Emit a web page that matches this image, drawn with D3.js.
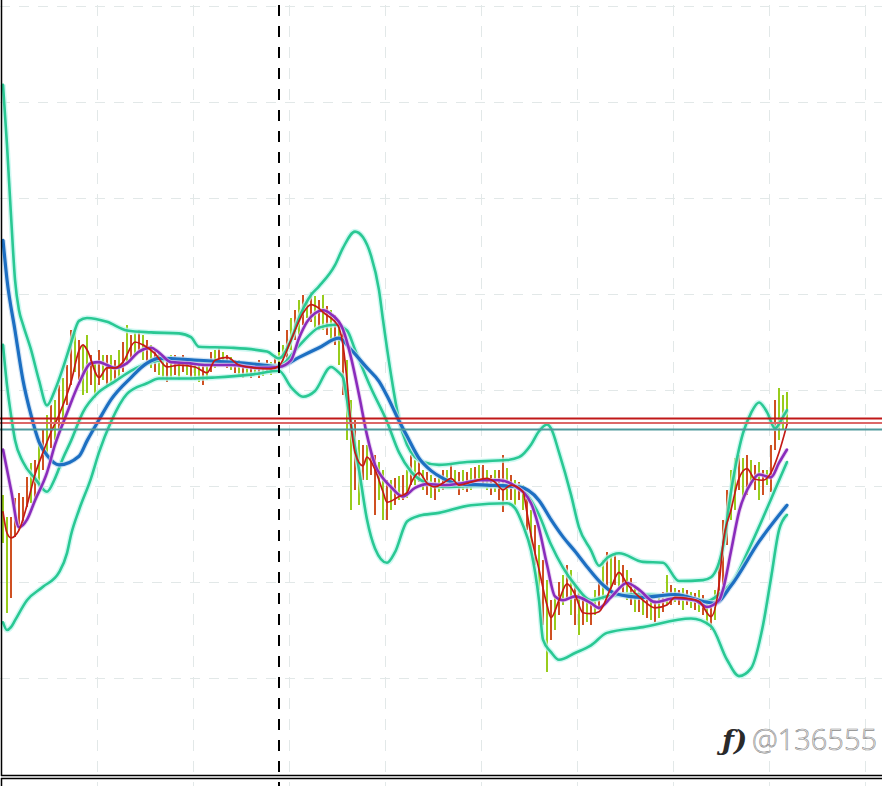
<!DOCTYPE html>
<html><head><meta charset="utf-8">
<script src="https://cdn.jsdelivr.net/npm/d3@7"></script>
<style>html,body{margin:0;padding:0;background:#fff;overflow:hidden}</style>
</head><body>
<svg id="c" width="882" height="786"></svg>
<script>
// ---------- DATA (price in points, bar index on x) ----------
const barHigh = [291,268,268,288,293,289,309,324,327,348,
358,374,384,390,405,412,426,462,459,452,
447,457,436,429,442,436,436,436,431,442,
450,468,457,459,462,457,452,447,442,440,
436,433,436,436,434,436,431,431,429,429,
426,425,440,442,444,440,436,434,431,431,
429,429,427,429,431,426,431,429,436,440,
447,462,475,483,494,499,494,502,498,494,
499,488,483,478,473,462,431,390,369,348,
343,343,337,332,325,317,306,306,308,310,
311,317,332,327,329,317,315,311,308,311,
317,317,322,317,315,317,315,319,320,322,
322,317,311,317,317,332,319,311,306,304,
301,291,275,259,239,223,202,181,186,200,
207,218,212,197,192,186,183,181,192,202,
223,231,228,228,223,218,212,204,197,192,
190,186,183,181,183,190,207,197,194,192,
194,192,190,189,192,186,181,176,192,223,
265,296,317,329,332,329,332,327,322,325,
317,317,343,390,402,395,398];
const barLow = [241,168,183,247,254,261,278,282,285,299,
317,332,340,348,358,369,384,405,419,410,
395,397,405,392,405,410,405,405,410,412,
419,426,431,436,442,431,426,423,419,416,
412,408,412,416,410,419,416,410,410,408,
405,410,419,423,426,425,423,421,418,416,
412,416,412,416,412,415,419,416,419,421,
423,431,442,452,457,468,475,471,465,462,
462,457,452,447,426,395,348,275,296,280,
306,306,311,270,285,265,265,275,280,285,
285,287,301,301,304,296,291,287,285,294,
296,298,301,298,291,296,294,296,299,304,
301,296,291,294,285,273,285,285,280,285,
275,254,233,218,192,155,106,140,150,166,
176,181,166,155,145,155,158,155,166,171,
181,192,192,197,192,186,181,176,169,169,
166,162,160,158,162,169,176,176,179,176,
171,176,173,171,169,166,155,150,160,181,
197,239,265,275,296,285,291,301,296,285,
291,301,294,338,348,358,364];
const barDir = ("uudddddudu" + "dudududdud" + "uududududu" + "dududududu" + "ududududuu" +
  "dududududu" + "dududududu" + "ududududud" + "udududuudu" + "dudduududu" +
  "dududududu" + "dududududu" + "dududdudud" + "ududududud" + "ududududud" +
  "ududududud" + "ududududud" + "ududududud" + "dduudududu" + "dudduuu").split("");

const maFast = [[0,273],[1,251],[2,246],[4,254],[6,280],[8,312],[10,335],[12,356],[14,374],[17,408],[19,441],[20,447],[21,442],[24,413],[26,423],[28,423],[30,429],[33,450],[35,447],[38,438],[41,424],[44,426],[48,424],[51,418],[53,431],[56,434],[59,426],[63,423],[67,422],[69,425],[72,452],[75,480],[77,489],[79,485],[80,481],[83,471],[84,465],[85,447],[86,410],[87,364],[88,335],[90,321],[91,330],[93,317],[95,294],[96,283],[99,289],[101,293],[102,303],[104,314],[106,303],[108,299],[110,303],[112,308],[114,301],[117,304],[121,308],[123,304],[125,296],[127,301],[130,294],[131,272],[132,249],[134,213],[136,176],[137,163],[139,181],[141,198],[143,187],[145,168],[147,167],[149,169],[152,194],[154,210],[156,198],[160,181],[163,173],[166,176],[168,184],[171,183],[174,180],[177,164],[179,197],[180,240],[182,275],[184,308],[186,318],[188,307],[190,306],[192,314],[194,335],[196,364]];
const maMid = [[0,338],[2,296],[4,257],[6,265],[8,285],[11,314],[13,343],[16,376],[19,407],[22,428],[24,429],[26,426],[28,423],[31,428],[34,440],[37,444],[39,439],[42,429],[46,428],[51,426],[57,426],[64,423],[69,424],[72,431],[74,454],[76,471],[78,480],[80,483],[82,479],[85,463],[87,434],[89,395],[91,353],[93,322],[95,308],[97,299],[100,289],[103,298],[106,302],[110,301],[115,303],[119,306],[124,306],[128,300],[132,282],[134,256],[136,218],[138,185],[140,181],[143,185],[147,178],[149,173],[152,184],[156,199],[159,192],[163,179],[168,183],[173,181],[176,174],[179,181],[180,192],[182,232],[184,273],[187,303],[189,312],[192,309],[194,324],[196,338]];
const maSlow = [[0,556],[1,515],[3,462],[5,410],[7,374],[9,346],[11,332],[14,322],[19,331],[21,347],[24,369],[27,390],[32,413],[36,428],[39,433],[49,431],[57,429],[65,426],[69,424],[74,434],[79,444],[84,454],[87,442],[91,423],[94,409],[96,394],[99,368],[101,352],[104,329],[107,316],[110,308],[114,302],[121,301],[129,299],[134,285],[137,265],[140,247],[143,232],[146,216],[150,197],[153,188],[160,184],[168,187],[176,179],[178,178],[182,196],[189,242],[196,280]];
const bandUpper = [[0,718],[1,655],[2,582],[3,515],[4,483],[5,468],[7,442],[9,410],[11,384],[13,400],[15,423],[17,449],[19,472],[21,475],[26,471],[31,462],[37,460],[44,459],[47,455],[49,445],[57,444],[66,440],[69,433],[72,452],[74,475],[77,499],[79,508],[83,530],[85,548],[88,565],[90,559],[92,540],[94,504],[95,473],[97,416],[99,369],[101,343],[103,330],[105,325],[109,322],[116,325],[126,327],[129,330],[132,343],[134,357],[136,364],[137,360],[139,335],[142,291],[144,257],[147,233],[149,217],[151,225],[154,230],[160,221],[165,220],[169,201],[175,202],[177,205],[180,237],[182,294],[185,355],[187,376],[189,387],[191,377],[193,360],[195,372],[196,379]];
const bandMiddle = [[0,447],[1,405],[2,374],[3,348],[5,325],[8,308],[11,294],[13,308],[15,329],[17,347],[20,377],[24,398],[28,409],[32,420],[37,429],[42,432],[50,429],[60,427],[69,425],[74,446],[79,465],[83,468],[86,462],[88,442],[92,402],[96,367],[99,335],[102,315],[106,303],[111,299],[118,300],[129,300],[131,291],[134,270],[137,239],[140,215],[143,197],[147,181],[151,185],[157,187],[168,185],[176,180],[179,187],[183,204],[186,230],[190,267],[193,296],[196,325]];
const bandLower = [[0,158],[1,150],[2,153],[3,160],[6,181],[10,195],[14,210],[16,230],[17,249],[19,275],[22,308],[24,335],[27,367],[31,396],[36,407],[39,412],[47,412],[53,413],[62,416],[69,420],[72,403],[75,393],[78,399],[82,424],[84,418],[85,413],[86,390],[87,364],[89,317],[91,265],[93,235],[96,220],[98,231],[101,263],[104,269],[109,272],[117,280],[126,282],[128,277],[130,259],[132,233],[134,181],[135,140],[137,127],[139,119],[143,126],[147,134],[151,147],[160,153],[172,162],[177,154],[181,119],[184,102],[187,110],[190,155],[192,204],[194,254],[196,270]];
const levels = [370.3, 365.6, 358.8];
const priceGrid = [100,200,300,400,500,600,700,800];
const timeGrid = [23.5,47.5,71.5,95.5,119.5,143.5,167.5,191.5,215.5];
const separatorBar = 69;
const watermarkLogo = "ƒ)";
const watermarkText = "@136555";

// ---------- DRAW ----------
const svg = d3.select("#c");
const x = d3.scaleLinear().domain([0,196]).range([3,787]);
const y = d3.scaleLinear().domain([0,800]).range([774,6]);

const gGrid = svg.append("g");
gGrid.selectAll("line.h").data(priceGrid).join("line")
  .attr("x1",0).attr("x2",882).attr("y1",d=>y(d)+0.5).attr("y2",d=>y(d)+0.5)
  .attr("stroke","#e2e8e8").attr("stroke-width",1).attr("stroke-dasharray","10,9");
gGrid.selectAll("line.v").data(timeGrid).join("line")
  .attr("x1",d=>x(d)+0.5).attr("x2",d=>x(d)+0.5).attr("y1",5).attr("y2",786)
  .attr("stroke","#e2e8e8").attr("stroke-width",1).attr("stroke-dasharray","11,10");

// bars
const idx = d3.range(barHigh.length);
svg.append("g").attr("shape-rendering","crispEdges")
  .selectAll("line").data(idx).join("line")
  .attr("x1",i=>x(i)).attr("x2",i=>x(i))
  .attr("y1",i=>y(barHigh[i])).attr("y2",i=>y(barLow[i]))
  .attr("stroke",i=>barDir[i]==="u" ? "#98cc1c" : "#cf5022")
  .attr("stroke-width",2);

const line = d3.line().x(d=>x(d[0])).y(d=>y(d[1])).curve(d3.curveMonotoneX);
function draw(data, color, w, halo, haloW){
  if (halo) svg.append("path").attr("d",line(data)).attr("fill","none")
    .attr("stroke",halo).attr("stroke-width",haloW).attr("stroke-linejoin","round").attr("opacity",0.75);
  svg.append("path").attr("d",line(data)).attr("fill","none")
    .attr("stroke",color).attr("stroke-width",w).attr("stroke-linejoin","round").attr("stroke-linecap","round");
}
const teal = "#2ac893", tealHalo = "#bff6ee";
draw(bandUpper, teal, 2.6, tealHalo, 5.5);
draw(bandLower, teal, 2.6, tealHalo, 5.5);
draw(bandMiddle, teal, 2.6, tealHalo, 5.5);
draw(maSlow, "#1d6fc2", 3.2, "#c4dcf2", 5.5);
draw(maMid, "#8a2cbc", 2.6, "#e2c8ee", 4.5);
draw(maFast, "#c41a16", 1.7, null, 0);

// horizontal levels
const levelColors = ["#c01818","#dc6868","#4e9a9c"];
svg.append("g").selectAll("line").data(levels).join("line")
  .attr("x1",0).attr("x2",882).attr("y1",d=>y(d)).attr("y2",d=>y(d))
  .attr("stroke",(d,i)=>levelColors[i]).attr("stroke-width",2);

// period separator
svg.append("line").attr("x1",x(separatorBar)).attr("x2",x(separatorBar))
  .attr("y1",5).attr("y2",786).attr("stroke","#000").attr("stroke-width",2)
  .attr("stroke-dasharray","11,10");

// frame
svg.append("line").attr("x1",1.5).attr("x2",1.5).attr("y1",0).attr("y2",776).attr("stroke","#000").attr("stroke-width",1.5);
svg.append("line").attr("x1",1.5).attr("x2",1.5).attr("y1",778).attr("y2",786).attr("stroke","#000").attr("stroke-width",1.5);
svg.append("line").attr("x1",1).attr("x2",882).attr("y1",775.5).attr("y2",775.5).attr("stroke","#000").attr("stroke-width",1.5);
svg.append("line").attr("x1",1).attr("x2",882).attr("y1",778.5).attr("y2",778.5).attr("stroke","#000").attr("stroke-width",1.5);

// watermark
svg.append("text").attr("x",722).attr("y",750).text(watermarkLogo)
  .attr("font-family","DejaVu Serif, serif").attr("font-style","italic").attr("font-weight","bold").attr("font-size",28)
  .attr("fill","#2a2a2a");
svg.append("text").attr("x",752).attr("y",750).text(watermarkText)
  .attr("font-family","'Open Sans', 'Noto Sans', sans-serif").attr("font-weight",300).attr("font-size",29)
  .attr("fill","#f2f2f2").attr("stroke","#8a8a8a").attr("stroke-width",0.6);
</script>
</body></html>
